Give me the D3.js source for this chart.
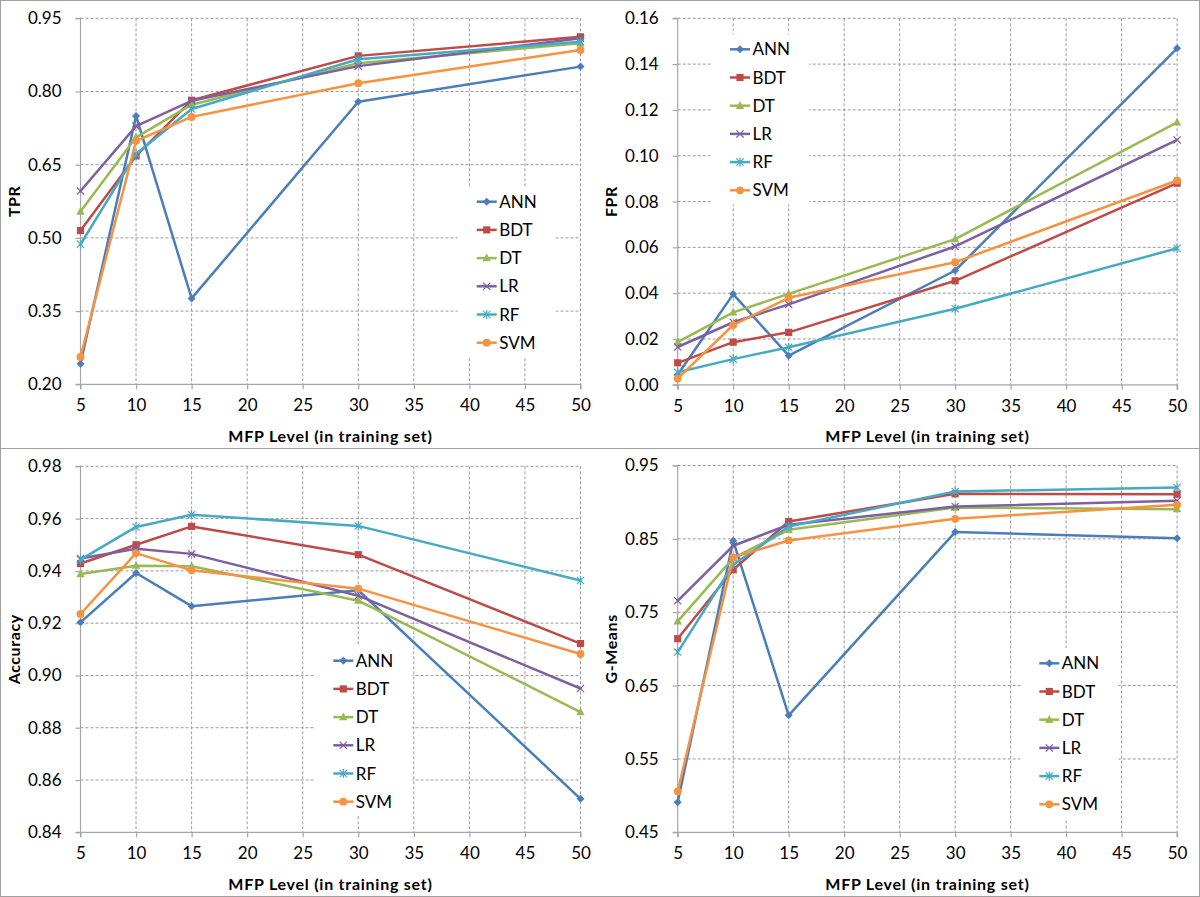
<!DOCTYPE html>
<html><head><meta charset="utf-8">
<script src="https://cdn.jsdelivr.net/npm/d3@7"></script>
<style>
body{margin:0;background:#fff;}
svg{display:block;font-family:Lato, "Open Sans", sans-serif;}
</style></head><body>
<svg id="c" width="1200" height="897"></svg>
<script>
// ---- data ----
const mfpLevels = [5, 10, 15, 30, 50];
const xTicks = [5, 10, 15, 20, 25, 30, 35, 40, 45, 50];
const seriesNames = ["ANN", "BDT", "DT", "LR", "RF", "SVM"];
const seriesColors = ["#4A7EBB", "#BE4B48", "#98B954", "#7D60A0", "#46AAC5", "#F69240"];
const seriesMarkers = ["diamond", "square", "triangle", "x", "star", "circle"];

// values per series (ANN, BDT, DT, LR, RF, SVM) at mfpLevels
const tprValues = [
  [0.242, 0.750, 0.376, 0.779, 0.851],
  [0.515, 0.668, 0.782, 0.873, 0.912],
  [0.554, 0.706, 0.773, 0.858, 0.899],
  [0.596, 0.729, 0.781, 0.852, 0.909],
  [0.487, 0.672, 0.764, 0.866, 0.902],
  [0.256, 0.699, 0.748, 0.817, 0.885]
];
const fprValues = [
  [0.0044, 0.0396, 0.0127, 0.0499, 0.1469],
  [0.0096, 0.0186, 0.0229, 0.0454, 0.0880],
  [0.0186, 0.0316, 0.0397, 0.0636, 0.1146],
  [0.0165, 0.0273, 0.0351, 0.0604, 0.1069],
  [0.0055, 0.0112, 0.0164, 0.0332, 0.0596],
  [0.0027, 0.0261, 0.0380, 0.0535, 0.0892]
];
const accuracyValues = [
  [0.9203, 0.9392, 0.9265, 0.9326, 0.8528],
  [0.9428, 0.9500, 0.9570, 0.9462, 0.9122],
  [0.9388, 0.9420, 0.9418, 0.9286, 0.8860],
  [0.9447, 0.9485, 0.9465, 0.9305, 0.8950],
  [0.9443, 0.9568, 0.9615, 0.9572, 0.9363],
  [0.9235, 0.9468, 0.9402, 0.9332, 0.9082]
];
const gmeansValues = [
  [0.4909, 0.8474, 0.6094, 0.8592, 0.8510],
  [0.7139, 0.8079, 0.8737, 0.9114, 0.9109],
  [0.7375, 0.8238, 0.8624, 0.8928, 0.8905],
  [0.7656, 0.8406, 0.8692, 0.8941, 0.9019],
  [0.6957, 0.8147, 0.8669, 0.9146, 0.9200],
  [0.5059, 0.8247, 0.8478, 0.8773, 0.8964]
];
const tprTicks = [0.20, 0.35, 0.50, 0.65, 0.80, 0.95];
const fprTicks = [0.00, 0.02, 0.04, 0.06, 0.08, 0.10, 0.12, 0.14, 0.16];
const accuracyTicks = [0.84, 0.86, 0.88, 0.90, 0.92, 0.94, 0.96, 0.98];
const gmeansTicks = [0.45, 0.55, 0.65, 0.75, 0.85, 0.95];
const xTitle = "MFP Level (in training set)";

// ---- layout ----
const panels = [
  {title: "TPR", values: tprValues, ticks: tprTicks, ox: 0, oy: 0, left: 80.5, right: 580.5, top: 18.3, bottom: 384.3, lx: 476.7, ly: 201.7},
  {title: "FPR", values: fprValues, ticks: fprTicks, ox: 600, oy: 0, left: 77.7, right: 577.1, top: 18.3, bottom: 384.8, lx: 130, ly: 49.3},
  {title: "Accuracy", values: accuracyValues, ticks: accuracyTicks, ox: 0, oy: 448, left: 80.5, right: 580.5, top: 18.3, bottom: 384.3, lx: 333.3, ly: 212.7},
  {title: "G-Means", values: gmeansValues, ticks: gmeansTicks, ox: 600, oy: 448, left: 77.7, right: 577.1, top: 17.5, bottom: 384.3, lx: 439.3, ly: 215.3}
];

const svg = d3.select("#c");
svg.append("rect").attr("x", 0).attr("y", 0).attr("width", 1200).attr("height", 897).attr("fill", "#fff");

function markerPath(type) {
  switch (type) {
    case "diamond": return "M0,-4L4,0L0,4L-4,0Z";
    case "square": return "M-3.6,-3.6H3.6V3.6H-3.6Z";
    case "triangle": return "M0,-4.6L4.2,3.2L-4.2,3.2Z";
    case "x": return "M-3.6,-3.6L3.6,3.6M-3.6,3.6L3.6,-3.6";
    case "star": return "M-3.6,-3.6L3.6,3.6M-3.6,3.6L3.6,-3.6M0,-4.6L0,4.6";
    default: return null;
  }
}
function drawMarker(g, type, color, x, y) {
  if (type === "circle") {
    g.append("circle").attr("cx", x).attr("cy", y).attr("r", 3.9).attr("fill", color);
  } else if (type === "x" || type === "star") {
    g.append("path").attr("d", markerPath(type)).attr("transform", `translate(${x},${y})`)
      .attr("fill", "none").attr("stroke", color).attr("stroke-width", 1.2);
  } else {
    g.append("path").attr("d", markerPath(type)).attr("transform", `translate(${x},${y})`).attr("fill", color);
  }
}

panels.forEach(p => {
  const g = svg.append("g").attr("transform", `translate(${p.ox},${p.oy})`);
  const x = d3.scaleLinear().domain([5, 50]).range([p.left, p.right]);
  const y = d3.scaleLinear().domain(d3.extent(p.ticks)).range([p.bottom, p.top]);

  // gridlines
  const grid = g.append("g").attr("stroke", "#9a9a9a").attr("stroke-dasharray", "3,2").attr("stroke-width", 1);
  p.ticks.forEach((t, i) => {
    if (i === 0) return;
    grid.append("line").attr("x1", p.left).attr("x2", p.right).attr("y1", y(t)).attr("y2", y(t));
  });
  xTicks.forEach((t, i) => {
    if (i === 0) return;
    grid.append("line").attr("x1", x(t)).attr("x2", x(t)).attr("y1", p.top).attr("y2", p.bottom);
  });

  // axes
  const yAxis = d3.axisLeft(y).tickValues(p.ticks).tickFormat(d3.format(".2f")).tickSize(5).tickPadding(14);
  const yG = g.append("g").attr("transform", `translate(${p.left},0)`).call(yAxis);
  const xAxis = d3.axisBottom(x).tickValues(xTicks).tickFormat(d3.format("d")).tickSize(5).tickPadding(10);
  const xG = g.append("g").attr("transform", `translate(0,${p.bottom})`).call(xAxis);
  [yG, xG].forEach(a => {
    a.select(".domain").attr("stroke", "#a6a6a6").attr("stroke-width", 1.2);
    a.selectAll(".tick line").attr("stroke", "#a6a6a6").attr("stroke-width", 1.2);
    a.selectAll(".tick text").attr("fill", "#000").style("font-size", "17px").style("font-family", "Lato");
  });
  yG.select(".domain").attr("d", `M-5,${p.top}H0V${p.bottom}H-5`);
  xG.select(".domain").attr("d", `M${p.left},5V0H${p.right}V5`);

  // titles
  g.append("text").attr("x", (p.left + p.right) / 2).attr("y", p.bottom + 57.5)
    .attr("text-anchor", "middle").style("font-size", "16px").style("font-weight", "bold")
    .style("letter-spacing", "0.75px").text(xTitle);
  g.append("text").attr("transform", `translate(${p.left - 60.5},${(p.top + p.bottom) / 2}) rotate(-90)`)
    .attr("text-anchor", "middle").style("font-size", "16px").style("font-weight", "bold")
    .style("letter-spacing", "0.6px").text(p.title);

  // series
  const line = d3.line().x((d, i) => x(mfpLevels[i])).y(d => y(d));
  p.values.forEach((vals, si) => {
    g.append("path").attr("d", line(vals)).attr("fill", "none")
      .attr("stroke", seriesColors[si]).attr("stroke-width", 2.5)
      .attr("stroke-linejoin", "round").attr("stroke-linecap", "round");
    const mg = g.append("g");
    vals.forEach((v, i) => drawMarker(mg, seriesMarkers[si], seriesColors[si], x(mfpLevels[i]), y(v)));
  });

  // legend
  const lg = g.append("g");
  lg.append("rect").attr("x", p.lx - 19).attr("y", p.ly - 15).attr("width", 98).attr("height", 170).attr("fill", "#fff");
  seriesNames.forEach((name, i) => {
    const cy = p.ly + i * 28.2;
    lg.append("line").attr("x1", p.lx).attr("x2", p.lx + 20).attr("y1", cy).attr("y2", cy)
      .attr("stroke", seriesColors[i]).attr("stroke-width", 2.5);
    drawMarker(lg, seriesMarkers[i], seriesColors[i], p.lx + 10, cy);
    lg.append("text").attr("x", p.lx + 22.5).attr("y", cy + 6).style("font-size", "17px")
      .attr("fill", "#000").text(name);
  });
});

// panel frames
svg.append("rect").attr("x", 0.5).attr("y", 0.5).attr("width", 1199).attr("height", 896)
  .attr("fill", "none").attr("stroke", "#a0a0a0");
svg.append("line").attr("x1", 0).attr("x2", 1200).attr("y1", 448.5).attr("y2", 448.5).attr("stroke", "#a0a0a0");
</script>
</body></html>
